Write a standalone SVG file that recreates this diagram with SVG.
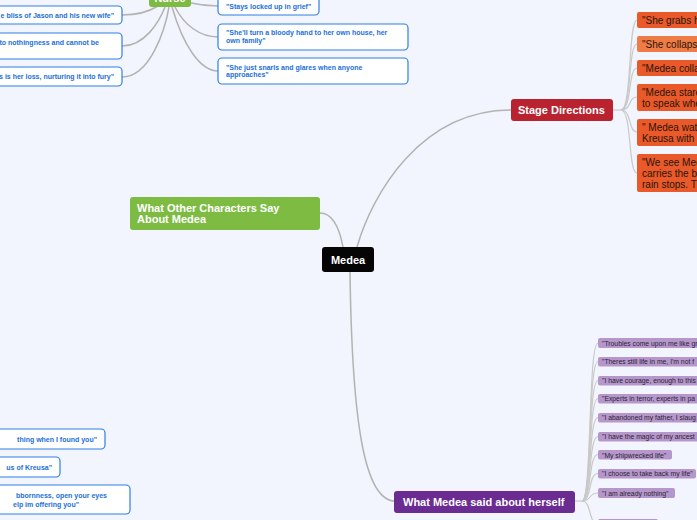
<svg xmlns="http://www.w3.org/2000/svg" width="697" height="520" viewBox="0 0 697 520">
<style>
.bg{fill:#f2f5fd}
.main{stroke:#b3b3b3;stroke-width:1.5;fill:none}
.sub{stroke:#c9c9c9;stroke-width:1.2;fill:none}
.hd{font-family:"Liberation Sans",Arial,sans-serif;font-weight:bold;fill:#fff;font-size:11px}
.bl rect{fill:#fff;stroke:#2d7fe6;stroke-width:1.2}
.bl text{font-family:"Liberation Sans",Arial,sans-serif;font-weight:bold;fill:#1c6fd9;font-size:7px}
.or rect{fill:#e9592a}
.or text{font-family:"Liberation Sans",Arial,sans-serif;fill:#2a160c;font-size:10px}
.pu rect{fill:#b597cc}
.pu text{font-family:"Liberation Sans",Arial,sans-serif;fill:#2e2233;font-size:6.8px}
</style>
<rect class="bg" x="0" y="0" width="697" height="520"/>

<g id="connectors">
  <path class="main" d="M357,247 C372,195 420,110 511,110"/>
  <path class="main" d="M343,247 C339,226 332,213 320,213"/>
  <path class="main" d="M350,272 C352,420 364,501 395,501"/>
  <!-- nurse -->
  <path class="main" d="M122,15 C138,15 150,11 158,6"/>
  <path class="main" d="M122,46 C145,46 159,22 165,7"/>
  <path class="main" d="M122,77 C150,77 165,30 169,7"/>
  <path class="main" d="M191,3 C200,5 208,6 218,6"/>
  <path class="main" d="M175,7 C184,25 200,37 218,37"/>
  <path class="main" d="M172,7 C183,45 200,71 218,71"/>
  <!-- stage directions -->
  <path class="sub" d="M613,110 L621,110"/>
  <path class="sub" d="M621,110 C632,110 628,20 637,20"/>
  <path class="sub" d="M621,110 C632,110 628,44 637,44"/>
  <path class="sub" d="M621,110 C632,110 628,68 637,68"/>
  <path class="sub" d="M621,110 C632,110 628,97 637,97"/>
  <path class="sub" d="M621,110 C632,110 628,132 637,132"/>
  <path class="sub" d="M621,110 C632,110 628,173 637,173"/>
  <!-- herself -->
  <path class="sub" d="M575,501 L582,501"/>
  <path class="sub" d="M582,501 C592,501 588,343 598,343"/>
  <path class="sub" d="M582,501 C592,501 588,361.5 598,361.5"/>
  <path class="sub" d="M582,501 C592,501 588,380.5 598,380.5"/>
  <path class="sub" d="M582,501 C592,501 588,398.5 598,398.5"/>
  <path class="sub" d="M582,501 C592,501 588,417.5 598,417.5"/>
  <path class="sub" d="M582,501 C592,501 588,436.5 598,436.5"/>
  <path class="sub" d="M582,501 C592,501 588,454.5 598,454.5"/>
  <path class="sub" d="M582,501 C592,501 588,473.5 598,473.5"/>
  <path class="sub" d="M582,501 C592,501 588,493 598,493"/>
  <path class="sub" d="M582,501 C592,501 588,524 598,524"/>
</g>

<g id="medea">
  <rect x="322" y="247" width="52" height="25" rx="3" fill="#050505"/>
  <text class="hd" x="348" y="263.5" text-anchor="middle" font-size="10.5">Medea</text>
</g>

<g id="others">
  <rect x="130" y="197" width="190" height="33" rx="3" fill="#7dbb42"/>
  <text class="hd" x="137" y="212">What Other Characters Say</text>
  <text class="hd" x="137" y="223">About Medea</text>
</g>

<g id="stage">
  <rect x="511" y="99" width="102" height="22" rx="3" fill="#b92330"/>
  <text class="hd" x="518" y="114">Stage Directions</text>
</g>

<g id="herself">
  <rect x="394" y="491" width="181" height="22" rx="3" fill="#6b2c91"/>
  <text class="hd" x="403" y="506">What Medea said about herself</text>
</g>

<g id="nurse">
  <rect x="149" y="-16" width="42" height="23" rx="3" fill="#7dbb42"/>
  <text class="hd" x="170" y="1.5" text-anchor="middle">Nurse</text>
</g>

<g id="n1" class="bl"><rect x="-60" y="6" width="182" height="18" rx="4"/><text x="114" y="18" text-anchor="end">e bliss of Jason and his new wife"</text></g>
<g id="n2" class="bl"><rect x="-60" y="33" width="182" height="26" rx="4"/><text x="99" y="45" text-anchor="end">to nothingness and cannot be</text></g>
<g id="n3" class="bl"><rect x="-60" y="67" width="182" height="19" rx="4"/><text x="114" y="79" text-anchor="end">s is her loss, nurturing it into fury"</text></g>
<g id="n4" class="bl"><rect x="218" y="-10" width="101" height="25" rx="4"/><text x="226" y="8.5">"Stays locked up in grief"</text></g>
<g id="n5" class="bl"><rect x="218" y="24" width="190" height="26" rx="4"/><text x="226" y="35">"She'll turn a bloody hand to her own house, her</text><text x="226" y="42.5">own family"</text></g>
<g id="n6" class="bl"><rect x="218" y="58" width="190" height="26" rx="4"/><text x="226" y="70">"She just snarls and glares when anyone</text><text x="226" y="77">approaches"</text></g>

<g id="j1" class="bl"><rect x="-60" y="429" width="165" height="20" rx="4"/><text x="97" y="441.5" text-anchor="end">thing when I found you"</text></g>
<g id="j2" class="bl"><rect x="-60" y="457" width="120" height="20" rx="4"/><text x="52" y="470" text-anchor="end">us of Kreusa"</text></g>
<g id="j3" class="bl"><rect x="-60" y="485" width="190" height="29" rx="4"/><text x="107" y="498" text-anchor="end">bbornness, open your eyes</text><text x="79" y="506.5" text-anchor="end">elp im offering you"</text></g>

<g id="s1" class="or"><rect x="637" y="12" width="80" height="16" rx="2"/><text x="642" y="23.5">"She grabs h</text></g>
<g id="s2" class="or"><rect x="637" y="36" width="80" height="16" rx="2" style="fill:#f07c45"/><text x="642" y="47.5">"She collaps</text></g>
<g id="s3" class="or"><rect x="637" y="60" width="80" height="16" rx="2"/><text x="642" y="71.5">"Medea colla</text></g>
<g id="s4" class="or"><rect x="637" y="84" width="80" height="27" rx="2"/><text x="642" y="95.5">"Medea stare</text><text x="642" y="106.5">to speak whe</text></g>
<g id="s5" class="or"><rect x="637" y="119" width="80" height="27" rx="2"/><text x="642" y="130.5">" Medea wat</text><text x="642" y="141.5">Kreusa with</text></g>
<g id="s6" class="or"><rect x="637" y="154" width="80" height="38" rx="2"/><text x="642" y="165.5">"We see Med</text><text x="642" y="176.5">carries the b</text><text x="642" y="187.5">rain stops. T</text></g>

<g id="h1" class="pu"><rect x="598" y="338" width="110" height="10" rx="2"/><text x="602" y="345.5">"Troubles come upon me like gr</text></g>
<g id="h2" class="pu"><rect x="598" y="357" width="110" height="9.5" rx="2"/><text x="602" y="364">"Theres still life in me, I'm not f</text></g>
<g id="h3" class="pu"><rect x="598" y="376" width="110" height="9.5" rx="2"/><text x="602" y="383">"I have courage, enough to this</text></g>
<g id="h4" class="pu"><rect x="598" y="394" width="110" height="9.5" rx="2"/><text x="602" y="401">"Experts in terror, experts in pa</text></g>
<g id="h5" class="pu"><rect x="598" y="413" width="110" height="9.5" rx="2"/><text x="602" y="420">"I abandoned my father, I slaug</text></g>
<g id="h6" class="pu"><rect x="598" y="432" width="110" height="9.5" rx="2"/><text x="602" y="439">"I have the magic of my ancest</text></g>
<g id="h7" class="pu"><rect x="598" y="450" width="74" height="9.5" rx="2"/><text x="602" y="457.5">"My shipwrecked life"</text></g>
<g id="h8" class="pu"><rect x="598" y="469" width="98" height="9.5" rx="2"/><text x="602" y="476">"I choose to take back my life"</text></g>
<g id="h9" class="pu"><rect x="598" y="488" width="77" height="10" rx="2"/><text x="602" y="495.5">"I am already nothing"</text></g>
<g id="h10" class="pu"><rect x="598" y="519" width="60" height="10" rx="2"/></g>
</svg>
